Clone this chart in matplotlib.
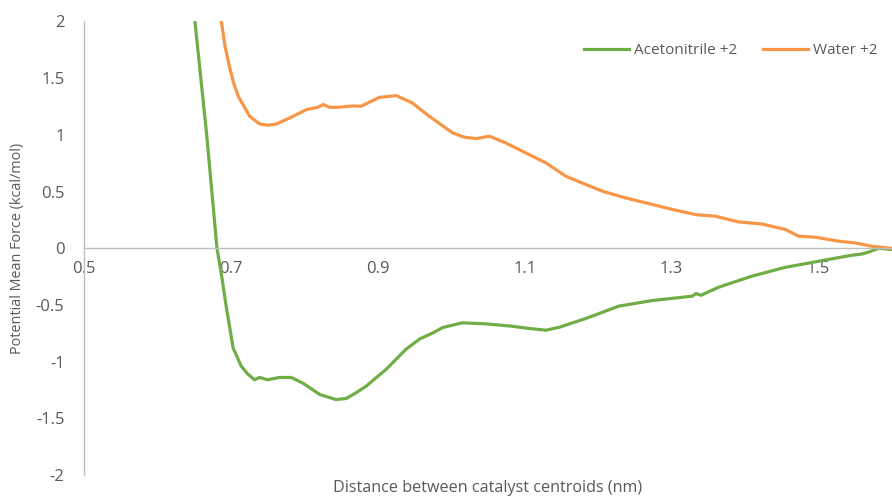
import matplotlib
matplotlib.use("Agg")
import matplotlib.pyplot as plt

# Acetonitrile +2 PMF curve
acn_x = [0.651, 0.667, 0.681, 0.687, 0.694, 0.703, 0.714, 0.723, 0.732, 0.739,
         0.750, 0.766, 0.782, 0.798, 0.821, 0.843, 0.857, 0.870, 0.884, 0.911,
         0.938, 0.957, 0.975, 0.988, 1.015, 1.047, 1.083, 1.106, 1.129, 1.147,
         1.183, 1.228, 1.274, 1.328, 1.333, 1.340, 1.364, 1.409, 1.455, 1.500,
         1.545, 1.560, 1.570, 1.582, 1.598]
acn_y = [2.00, 1.00, 0.00, -0.23, -0.53, -0.88, -1.04, -1.11, -1.16, -1.14,
         -1.16, -1.14, -1.14, -1.19, -1.29, -1.335, -1.325, -1.276, -1.217, -1.07,
         -0.893, -0.80, -0.747, -0.70, -0.658, -0.667, -0.688, -0.708, -0.723, -0.697,
         -0.62, -0.511, -0.461, -0.423, -0.40, -0.415, -0.344, -0.247, -0.168, -0.115,
         -0.062, -0.05, -0.03, 0.0, -0.01]

# Water +2 PMF curve
wat_x = [0.687, 0.692, 0.698, 0.704, 0.710, 0.7255, 0.739, 0.750, 0.762, 0.780,
         0.803, 0.818, 0.826, 0.834, 0.846, 0.866, 0.877, 0.902, 0.925, 0.947,
         0.970, 1.002, 1.018, 1.034, 1.052, 1.074, 1.097, 1.129, 1.156, 1.183,
         1.206, 1.237, 1.265, 1.296, 1.332, 1.360, 1.391, 1.423, 1.455, 1.473,
         1.496, 1.527, 1.550, 1.572, 1.598]
wat_y = [2.00, 1.78, 1.60, 1.45, 1.34, 1.164, 1.096, 1.085, 1.096, 1.149,
         1.223, 1.243, 1.267, 1.243, 1.243, 1.255, 1.252, 1.33, 1.346, 1.281,
         1.164, 1.017, 0.979, 0.967, 0.988, 0.929, 0.855, 0.752, 0.635, 0.562,
         0.503, 0.444, 0.40, 0.35, 0.297, 0.282, 0.232, 0.214, 0.165, 0.106,
         0.097, 0.062, 0.047, 0.018, 0.0]

xticks = [0.5, 0.7, 0.9, 1.1, 1.3, 1.5]
yticks = [-2, -1.5, -1, -0.5, 0, 0.5, 1, 1.5, 2]

plt.rcParams['font.family'] = ['Open Sans', 'DejaVu Sans']
txt = '#595959'
axcol = '#BFBFBF'

fig = plt.figure(figsize=(8.92, 4.97), dpi=100)
ax = fig.add_axes([0.0942, 0.0443, 0.9058, 0.9125])

ax.plot(acn_x, acn_y, color='#70AD47', lw=2.3, label='Acetonitrile +2',
        solid_joinstyle='round')
ax.plot(wat_x, wat_y, color='#F79646', lw=2.3, label='Water +2',
        solid_joinstyle='round')

ax.set_xlim(0.5, 1.6)
ax.set_ylim(-2, 2)
ax.set_xticks(xticks)
ax.set_xticklabels([str(v) for v in xticks])
ax.set_yticks(yticks)
ax.set_yticklabels(['%g' % v for v in yticks])

ax.spines['top'].set_visible(False)
ax.spines['right'].set_visible(False)
ax.spines['bottom'].set_position(('data', 0))
for s in ['left', 'bottom']:
    ax.spines[s].set_color(axcol)
    ax.spines[s].set_linewidth(1.0)
ax.tick_params(axis='both', length=0, colors=txt, labelsize=12)
ax.tick_params(axis='x', pad=9)
ax.tick_params(axis='y', pad=14)

ax.set_xlabel('Distance between catalyst centroids (nm)', color=txt, fontsize=11.6)
ax.xaxis.set_label_coords(0.5, -0.012)
ax.set_ylabel('Potential Mean Force (kcal/mol)', color=txt, fontsize=10.4)
ax.yaxis.set_label_coords(-0.073, 0.5)

leg = ax.legend(loc='center right', bbox_to_anchor=(0.982, 0.935), ncol=2,
                frameon=False, fontsize=11, borderpad=0, borderaxespad=0,
                handlelength=2.9, handletextpad=0.35, columnspacing=1.7)
for t in leg.get_texts():
    t.set_color(txt)

fig.savefig('out.png', dpi=100)
